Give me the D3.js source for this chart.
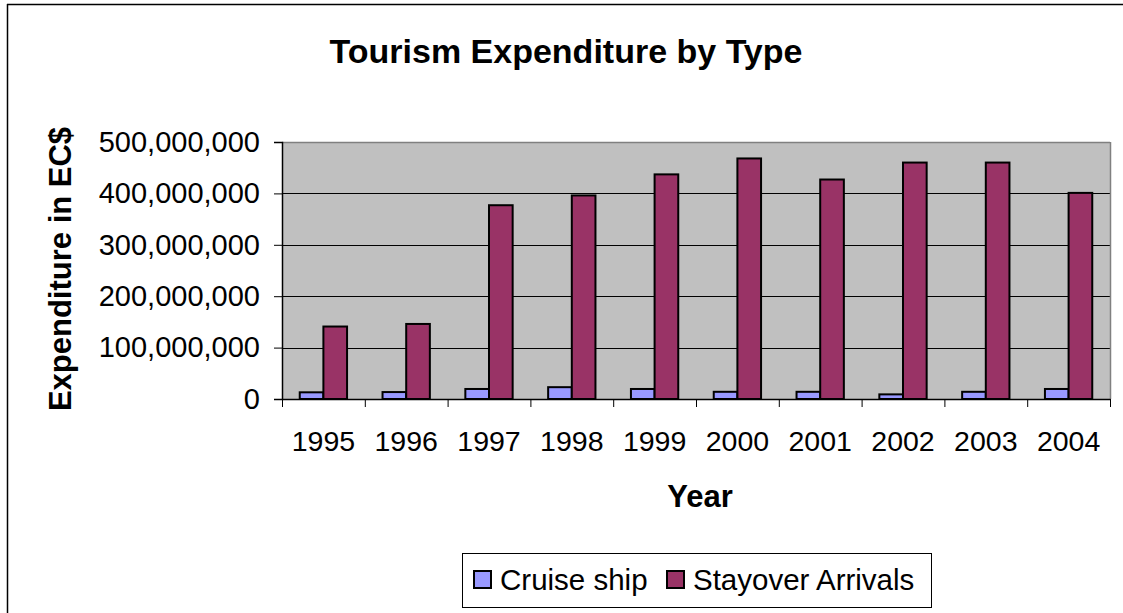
<!DOCTYPE html>
<html>
<head>
<meta charset="utf-8">
<script src="https://cdn.jsdelivr.net/npm/d3@7/dist/d3.min.js"></script>
<style>
  html, body { margin: 0; padding: 0; background: #fff; }
  svg { display: block; font-family: "Liberation Sans", Arial, sans-serif; }
</style>
</head>
<body>
<svg id="chart" width="1123" height="613"></svg>
<script>
const years = ["1995","1996","1997","1998","1999","2000","2001","2002","2003","2004"];
const seriesNames = ["Cruise ship", "Stayover Arrivals"];
const cruiseShip = [13000000, 13500000, 19500000, 23000000, 19500000, 14000000, 14000000, 9000000, 14000000, 19500000];
const stayoverArrivals = [141000000, 146000000, 377000000, 396000000, 437000000, 468000000, 427000000, 460000000, 460000000, 401000000];
const yTicks = [0, 100000000, 200000000, 300000000, 400000000, 500000000];
const colors = ["#9999FF", "#993366"];

const svg = d3.select("#chart");
const plot = {left: 282, right: 1110, top: 142, bottom: 399};

// outer chart border (top & left visible)
svg.append("line").attr("x1", 7).attr("x2", 1123).attr("y1", 4.5).attr("y2", 4.5).attr("stroke", "#000").attr("stroke-width", 1.5);
svg.append("line").attr("x1", 7.5).attr("x2", 7.5).attr("y1", 4).attr("y2", 613).attr("stroke", "#000").attr("stroke-width", 1.5);

const x = d3.scaleBand().domain(years).range([plot.left, plot.right]).paddingInner(0).paddingOuter(0);
const bw = x.bandwidth();
const pad = bw * 0.75 / 3.5;
const x1 = d3.scaleBand().domain(seriesNames).range([pad, bw - pad]).padding(0);
const y = d3.scaleLinear().domain([0, 500000000]).range([plot.bottom, plot.top]);

// plot background
svg.append("rect").attr("x", plot.left).attr("y", plot.top)
  .attr("width", plot.right - plot.left).attr("height", plot.bottom - plot.top)
  .attr("fill", "#C0C0C0");

// gridlines
svg.append("g").selectAll("line").data(yTicks.slice(1, -1)).join("line")
  .attr("x1", plot.left).attr("x2", plot.right)
  .attr("y1", d => Math.round(y(d)) + 0.5).attr("y2", d => Math.round(y(d)) + 0.5)
  .attr("stroke", "#000").attr("stroke-width", 1);

// plot border top/right gray
svg.append("line").attr("x1", plot.left).attr("x2", plot.right).attr("y1", plot.top + 0.5).attr("y2", plot.top + 0.5).attr("stroke", "#808080").attr("stroke-width", 1.5);
svg.append("line").attr("x1", plot.right + 0.5).attr("x2", plot.right + 0.5).attr("y1", plot.top).attr("y2", plot.bottom).attr("stroke", "#808080").attr("stroke-width", 1.5);

// bars
const data = years.map((yr, i) => ({year: yr, values: [cruiseShip[i], stayoverArrivals[i]]}));
const groups = svg.append("g").selectAll("g").data(data).join("g")
  .attr("transform", d => `translate(${x(d.year)},0)`);
groups.selectAll("rect").data(d => d.values.map((v, j) => ({name: seriesNames[j], v, j}))).join("rect")
  .attr("x", d => x1(d.name))
  .attr("y", d => y(d.v))
  .attr("width", x1.bandwidth())
  .attr("height", d => plot.bottom - y(d.v))
  .attr("fill", d => colors[d.j])
  .attr("stroke", "#000").attr("stroke-width", 2);

// y axis
const yAxis = d3.axisLeft(y).tickValues(yTicks).tickSize(8).tickPadding(14)
  .tickFormat(d3.format(","));
const gy = svg.append("g").attr("transform", `translate(${plot.left},0)`).call(yAxis);
gy.select(".domain").attr("stroke", "#000").attr("stroke-width", 1.5);
gy.selectAll(".tick line").attr("stroke", "#000");
gy.selectAll(".tick text").attr("font-size", 29).attr("fill", "#000")
  .attr("font-family", "Liberation Sans, Arial, sans-serif");

// x axis
const xAxis = d3.axisBottom(x).tickSize(0).tickPadding(32);
const gx = svg.append("g").attr("transform", `translate(0,${plot.bottom})`).call(xAxis);
gx.select(".domain").attr("stroke", "#000").attr("stroke-width", 1.5);
gx.selectAll(".tick text").attr("font-size", 28.5).attr("fill", "#000")
  .attr("font-family", "Liberation Sans, Arial, sans-serif");
// category boundary ticks
svg.append("g").selectAll("line").data(years.concat(["end"])).join("line")
  .attr("x1", d => (d === "end" ? plot.right : x(d)) + 0.5)
  .attr("x2", d => (d === "end" ? plot.right : x(d)) + 0.5)
  .attr("y1", plot.bottom).attr("y2", plot.bottom + 8)
  .attr("stroke", "#000").attr("stroke-width", 1);

// title
svg.append("text").attr("x", 566).attr("y", 63).attr("text-anchor", "middle")
  .attr("font-size", 34).attr("font-weight", "bold").text("Tourism Expenditure by Type");

// y axis title
svg.append("text").attr("transform", "translate(71,269) rotate(-90)").attr("text-anchor", "middle")
  .attr("font-size", 31).attr("font-weight", "bold").text("Expenditure in EC$");

// x axis title
svg.append("text").attr("x", 700).attr("y", 507).attr("text-anchor", "middle")
  .attr("font-size", 31).attr("font-weight", "bold").text("Year");

// legend
const lg = svg.append("g");
lg.append("rect").attr("x", 462.5).attr("y", 553.5).attr("width", 469).attr("height", 54)
  .attr("fill", "#fff").attr("stroke", "#000").attr("stroke-width", 1);
const legendItems = [{name: seriesNames[0], sx: 474, tx: 500}, {name: seriesNames[1], sx: 667, tx: 693}];
legendItems.forEach((it, i) => {
  lg.append("rect").attr("x", it.sx).attr("y", 571).attr("width", 17).attr("height", 17)
    .attr("fill", colors[i]).attr("stroke", "#000").attr("stroke-width", 2);
  lg.append("text").attr("x", it.tx).attr("y", 590).attr("font-size", 29.5).text(it.name);
});
</script>
</body>
</html>
